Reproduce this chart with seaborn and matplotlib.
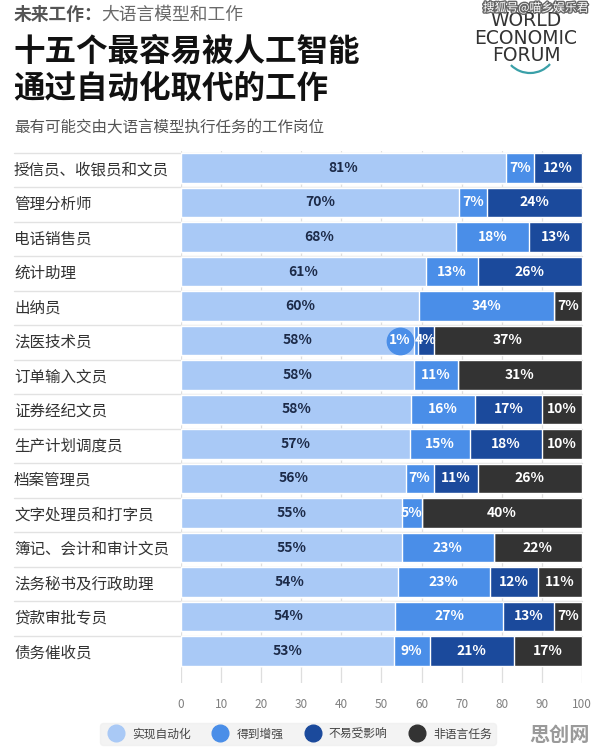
import seaborn as sns
import matplotlib.pyplot as plt
import matplotlib.patheffects as pe
from matplotlib.lines import Line2D
from matplotlib.patches import Arc
import pandas as pd
import numpy as np

# datos
jobs = ["授信员、收银员和文员", "管理分析师", "电话销售员", "统计助理", "出纳员",
        "法医技术员", "订单输入文员", "证券经纪文员", "生产计划调度员", "档案管理员",
        "文字处理员和打字员", "簿记、会计和审计文员", "法务秘书及行政助理", "贷款审批专员", "债务催收员"]
automation = [81, 70, 68, 61, 60, 58, 58, 58, 57, 56, 55, 55, 54, 54, 53]
augmentation = [7, 7, 18, 13, 34, 1, 11, 16, 15, 7, 5, 23, 23, 27, 9]
low_exposure = [12, 24, 13, 26, 0, 4, 0, 17, 18, 11, 0, 0, 12, 13, 21]
non_language = [0, 0, 0, 0, 7, 37, 31, 10, 10, 26, 40, 22, 11, 7, 17]
legend_labels = ["实现自动化", "得到增强", "不易受影响", "非语言任务"]
colors = ["#a9c9f6", "#4a8ee8", "#1b4a9c", "#333333"]

df = pd.DataFrame({"job": jobs, "a": automation, "b": augmentation,
                   "c": low_exposure, "d": non_language})
# cada barra ocupa el 100% (los redondeos suman 99 o 101)
tot = df[["a", "b", "c", "d"]].sum(axis=1)
df["c1"] = df["a"] / tot * 100
df["c2"] = (df["a"] + df["b"]) / tot * 100
df["c3"] = (df["a"] + df["b"] + df["c"]) / tot * 100
df["c4"] = 100.0

sns.set_style("white")
plt.rcParams["font.family"] = ["Noto Sans CJK SC", "DejaVu Sans"]

fig = plt.figure(figsize=(5.96, 7.53), dpi=100)
pitch = 34.5
ax = fig.add_axes([181 / 596, 1 - 683 / 753, 401 / 596, (683 - 150.75) / 753])

bar_w = 0.85
# barras apiladas: se dibuja de la suma total hacia atrás
for col, colr in zip(["c4", "c3", "c2", "c1"], colors[::-1]):
    sns.barplot(data=df, x=col, y="job", orient="h", color=colr, width=bar_w,
                saturation=1, ax=ax, zorder=2)

ax.set_xlim(0, 100)
ax.set_ylim(14 + 32 / pitch, -0.5)
ax.set_ylabel("")
ax.set_xlabel("")
ax.set_yticks([])
ax.set_xticks(range(0, 101, 10))
ax.grid(axis="x", color="#dedede", lw=0.9, zorder=0)
for s in ["top", "right", "left", "bottom"]:
    ax.spines[s].set_visible(False)
ax.tick_params(axis="x", length=0, labelcolor="#808080", labelsize=8.5, pad=11)

# nombres de los puestos y líneas separadoras
tr = ax.get_yaxis_transform()
x_lab = (14 - 181) / 401
for i, j in enumerate(jobs):
    ax.text(x_lab, i + 0.05, j, transform=tr, ha="left", va="center", fontsize=11.2,
            color="#333333")
    ax.plot([x_lab, 1], [i - bar_w / 2 - 0.02] * 2, transform=tr, color="#e2e2e2",
            lw=1, clip_on=False, zorder=1)

# etiquetas de porcentaje
series = [automation, augmentation, low_exposure, non_language]
for i in range(len(jobs)):
    start = 0
    for k, vals in enumerate(series):
        v = vals[i]
        if v == 0:
            continue
        s0 = start / tot[i] * 100
        s1 = (start + v) / tot[i] * 100
        cx = (s0 + s1) / 2
        tc = "#1c2a48" if k == 0 else "white"
        if v < 3:
            cx = s0 - 3.4
            ax.scatter(cx, i, s=360, color=colors[k], zorder=4)
        ax.text(cx, i, f"{v}%", ha="center", va="center", fontsize=10,
                fontweight="bold", color=tc, zorder=5)
        start += v

# títulos
fig.text(14 / 596, 1 - 15 / 753, "未来工作：", fontsize=12.8, fontweight="bold",
         color="#555555", va="center", ha="left")
fig.text(101 / 596, 1 - 15 / 753, "大语言模型和工作", fontsize=12.8,
         color="#6a6a6a", va="center", ha="left")
fig.text(13 / 596, 1 - 52 / 753, "十五个最容易被人工智能", fontsize=22.7,
         fontweight="bold", color="#111111", va="center", ha="left")
fig.text(13 / 596, 1 - 89 / 753, "通过自动化取代的工作", fontsize=22.7,
         fontweight="bold", color="#111111", va="center", ha="left")
fig.text(14 / 596, 1 - 128 / 753, "最有可能交由大语言模型执行任务的工作岗位",
         fontsize=11.2, color="#555555", va="center", ha="left")

# logo y marcas de agua
fig.text(526 / 596, 1 - 38 / 753, "WORLD\nECONOMIC\nFORUM", fontsize=13.5,
         color="#333333", ha="center", va="center", linespacing=0.92,
         family=["DejaVu Sans"])
fig.patches.append(Arc((530 / 100, (753 - 46) / 100), 0.54, 0.54, theta1=225,
                       theta2=318, transform=fig.dpi_scale_trans, color="#3aa0a8",
                       lw=1.6))
fig.text(588 / 596, 1 - 8 / 753, "搜狐号@喵乡娱乐君", fontsize=8.5,
         color="white", ha="right", va="center",
         path_effects=[pe.withStroke(linewidth=2, foreground="#666666")])
fig.text(590 / 596, 1 - 734 / 753, "思创网", fontsize=14.5, fontweight="bold",
         color="#9a9a9a", ha="right", va="center")

# leyenda
handles = [Line2D([], [], marker="o", ls="", markersize=12, markerfacecolor=c,
                  markeredgecolor=c) for c in colors]
leg = fig.legend(handles, legend_labels, loc="center", ncol=4,
                 bbox_to_anchor=(298 / 596, 1 - 734 / 753), frameon=True,
                 fontsize=8.5, handletextpad=0.35, columnspacing=1.5,
                 borderpad=0.35, fancybox=True)
leg.get_frame().set_facecolor("#f0f0f0")
leg.get_frame().set_edgecolor("#f0f0f0")
for t in leg.get_texts():
    t.set_color("#444444")

plt.savefig("out.png", dpi=100)
